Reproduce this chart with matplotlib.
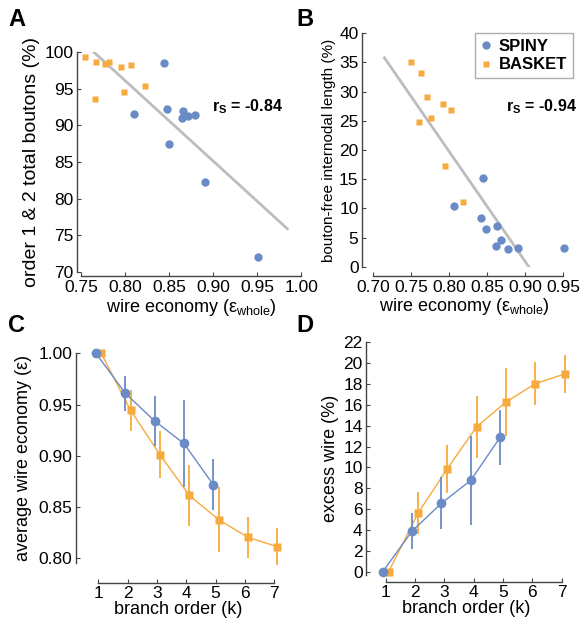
import matplotlib
matplotlib.use("Agg")
import matplotlib.pyplot as plt
import numpy as np

plt.rcParams['font.family'] = ['Liberation Sans', 'DejaVu Sans']
plt.rcParams['mathtext.fontset'] = 'custom'
plt.rcParams['mathtext.rm'] = 'Liberation Sans'
plt.rcParams['mathtext.it'] = 'Liberation Sans:italic'
plt.rcParams['mathtext.bf'] = 'Liberation Sans:bold'

BLUE = '#6a8bc6'
ORANGE = '#f7aa3d'
AXC = '#444444'

# ---- Panel A data ----
a_basket_x = [0.754, 0.767, 0.7765, 0.781, 0.795, 0.806, 0.822, 0.7985, 0.765]
a_basket_y = [99.36, 98.64, 98.32, 98.64, 97.95, 98.27, 95.36, 94.58, 93.63]
a_spiny_x = [0.844, 0.810, 0.847, 0.866, 0.864, 0.8716, 0.8795, 0.850, 0.891, 0.951]
a_spiny_y = [98.5, 91.58, 92.18, 91.99, 91.0, 91.27, 91.45, 87.41, 82.26, 72.07]
a_fit_x = [0.764, 0.984]
a_fit_y = [100.0, 75.9]
a_rs = '-0.84'

# ---- Panel B data ----
b_basket_x = [0.750, 0.7628, 0.7714, 0.7917, 0.8026, 0.7763, 0.7605, 0.7943, 0.8188]
b_basket_y = [35.16, 33.28, 29.06, 27.86, 26.83, 25.45, 24.77, 17.32, 11.05]
b_spiny_x = [0.8447, 0.807, 0.8421, 0.8483, 0.8636, 0.8688, 0.8618, 0.878, 0.8904, 0.9517]
b_spiny_y = [15.27, 10.41, 8.30, 6.41, 7.03, 4.53, 3.60, 2.98, 3.26, 3.16]
b_fit_x = [0.715, 0.905]
b_fit_y = [35.8, 0.0]
b_rs = '-0.94'

# ---- Panel C data ----
c_spiny_k = [1, 2, 3, 4, 5]
c_spiny_y = [1.000, 0.961, 0.934, 0.912, 0.8718]
c_spiny_err = [0.0, 0.017, 0.024, 0.042, 0.025]
c_basket_k = [1, 2, 3, 4, 5, 6, 7]
c_basket_y = [1.000, 0.9444, 0.9011, 0.8615, 0.8377, 0.8205, 0.8113]
c_basket_err = [0.0, 0.020, 0.023, 0.030, 0.032, 0.020, 0.018]

# ---- Panel D data ----
d_spiny_k = [1, 2, 3, 4, 5]
d_spiny_y = [0.0, 3.9, 6.56, 8.76, 12.88]
d_spiny_err = [0.0, 1.75, 2.5, 4.3, 2.65]
d_basket_k = [1, 2, 3, 4, 5, 6, 7]
d_basket_y = [0.0, 5.6, 9.88, 13.9, 16.27, 18.03, 18.96]
d_basket_err = [0.0, 2.0, 2.3, 2.95, 3.3, 2.05, 1.8]

W, H = 587, 619
fig = plt.figure(figsize=(W / 100, H / 100), dpi=100)


def add_ax(x0, y0, x1, y1):
    return fig.add_axes([x0 / W, 1 - y1 / H, (x1 - x0) / W, (y1 - y0) / H])


def style(ax, xb, yb, bottom_off, tick_fs):
    for s in ['top', 'right']:
        ax.spines[s].set_visible(False)
    for s in ['left', 'bottom']:
        ax.spines[s].set_color(AXC)
        ax.spines[s].set_linewidth(1.0)
    ax.spines['bottom'].set_bounds(*xb)
    ax.spines['left'].set_bounds(*yb)
    ax.spines['bottom'].set_position(('outward', bottom_off))
    ax.tick_params(direction='in', length=3, width=0.8, color=AXC,
                   labelsize=tick_fs, pad=2.5)
    ax.patch.set_visible(False)


# ---------- A ----------
axA = add_ax(77, 52, 77 + 0.26 * 880, 272)
axA.set_xlim(0.745, 1.005)
axA.set_ylim(70, 100)
axA.plot(a_fit_x, a_fit_y, color='#bdbdbd', lw=2, zorder=1)
axA.plot(a_basket_x, a_basket_y, 's', color=ORANGE, ms=5, mec='none', clip_on=False, zorder=3)
axA.plot(a_spiny_x, a_spiny_y, 'o', color=BLUE, ms=6, mec='none', clip_on=False, zorder=3)
axA.set_xticks([0.75, 0.80, 0.85, 0.90, 0.95, 1.00])
axA.set_xticklabels(['0.75', '0.80', '0.85', '0.90', '0.95', '1.00'])
axA.set_yticks([70, 75, 80, 85, 90, 95, 100])
style(axA, (0.75, 1.0), (70, 100), 3, 12.5)
axA.set_xlabel(r'wire economy ($\mathrm{\varepsilon_{whole}}$)', fontsize=13, labelpad=2)
axA.set_ylabel('order 1 & 2 total boutons (%)', fontsize=14, labelpad=3)
axA.text((212 - 77) / 228.8, (272 - 107) / 220, r'$\mathbf{r_S}$ = ' + a_rs, transform=axA.transAxes,
         fontsize=11.5, fontweight='bold', ha='left', va='center')

# ---------- B ----------
axB = add_ax(362, 33.3, 373 + 0.255 * 760, 266.7)
axB.set_xlim(0.70 - 11 / 760, 0.955)
axB.set_ylim(0, 40)
axB.plot(b_fit_x, b_fit_y, color='#bdbdbd', lw=2, zorder=1)
axB.plot(b_basket_x, b_basket_y, 's', color=ORANGE, ms=5, mec='none', clip_on=False, zorder=3, label='BASKET')
axB.plot(b_spiny_x, b_spiny_y, 'o', color=BLUE, ms=6, mec='none', clip_on=False, zorder=3, label='SPINY')
axB.set_xticks([0.70, 0.75, 0.80, 0.85, 0.90, 0.95])
axB.set_xticklabels(['0.70', '0.75', '0.80', '0.85', '0.90', '0.95'])
axB.set_yticks([0, 5, 10, 15, 20, 25, 30, 35, 40])
style(axB, (0.70, 0.95), (0, 40), 7, 12.5)
axB.set_xlabel(r'wire economy ($\mathrm{\varepsilon_{whole}}$)', fontsize=13, labelpad=1)
axB.set_ylabel('bouton-free internodal length (%)', fontsize=11, labelpad=2)
axB.text((577 - 362) / 204.8, (266.7 - 107) / 233.4, r'$\mathbf{r_S}$ = ' + b_rs, transform=axB.transAxes,
         fontsize=11.5, fontweight='bold', ha='right', va='center')
h, l = axB.get_legend_handles_labels()
leg = axB.legend([h[1], h[0]], [l[1], l[0]], loc='upper right',
                 bbox_to_anchor=(1.03, 1.0), frameon=True, fancybox=False,
                 prop={'weight': 'bold', 'size': 12}, handlelength=0.6,
                 handletextpad=0.5, borderpad=0.35, labelspacing=0.2,
                 borderaxespad=0.0)
leg.get_frame().set_edgecolor('#999999')
leg.get_frame().set_linewidth(1.0)

# ---------- C ----------
xs = 29.33
axC = add_ax(76, 353.3, 98.3 + 6.2 * xs, 353.3 + 0.205 * 1025)
axC.set_xlim(1 - 22.3 / xs, 7.2)
axC.set_ylim(0.795, 1.0)
ks = np.array(c_spiny_k) - 0.08
kb = np.array(c_basket_k) + 0.1
axC.errorbar(kb, c_basket_y, yerr=c_basket_err, color=ORANGE, marker='s', ms=5.5,
             mec='none', lw=1.0, elinewidth=1.3, capsize=0, clip_on=False, zorder=3)
axC.errorbar(ks, c_spiny_y, yerr=c_spiny_err, color=BLUE, marker='o', ms=7,
             mec='none', lw=1.0, elinewidth=1.3, capsize=0, clip_on=False, zorder=4)
axC.set_xticks([1, 2, 3, 4, 5, 6, 7])
axC.set_yticks([0.80, 0.85, 0.90, 0.95, 1.00])
axC.set_yticklabels(['0.80', '0.85', '0.90', '0.95', '1.00'])
style(axC, (1, 7), (0.795, 1.0), 14, 12.5)
axC.set_xlabel('branch order (k)', fontsize=13, labelpad=0)
axC.set_ylabel(r'average wire economy ($\mathrm{\varepsilon}$)', fontsize=13, labelpad=3)

# ---------- D ----------
axD = add_ax(366, 342.3, 385.7 + 6.15 * xs, 571.7 + 0.3 * 10.43)
axD.set_xlim(1 - 19.7 / xs, 7.15)
axD.set_ylim(-0.3, 22)
ks = np.array(d_spiny_k) - 0.1
kb = np.array(d_basket_k) + 0.1
axD.errorbar(kb, d_basket_y, yerr=d_basket_err, color=ORANGE, marker='s', ms=5.5,
             mec='none', lw=1.0, elinewidth=1.3, capsize=0, clip_on=False, zorder=3)
axD.errorbar(ks, d_spiny_y, yerr=d_spiny_err, color=BLUE, marker='o', ms=7,
             mec='none', lw=1.0, elinewidth=1.3, capsize=0, clip_on=False, zorder=4)
axD.set_xticks([1, 2, 3, 4, 5, 6, 7])
axD.set_yticks(list(range(0, 23, 2)))
style(axD, (1, 7), (-0.3, 22), 5, 12.5)
axD.set_xlabel('branch order (k)', fontsize=13, labelpad=0)
axD.set_ylabel('excess wire (%)', fontsize=13, labelpad=3)

# panel letters
for letter, x, y in [('A', 8, 8), ('B', 296, 8), ('C', 8, 314), ('D', 296, 314)]:
    fig.text(x / W, 1 - y / H, letter, fontsize=17, fontweight='bold',
             ha='left', va='top')

fig.savefig('out.png', dpi=100)
